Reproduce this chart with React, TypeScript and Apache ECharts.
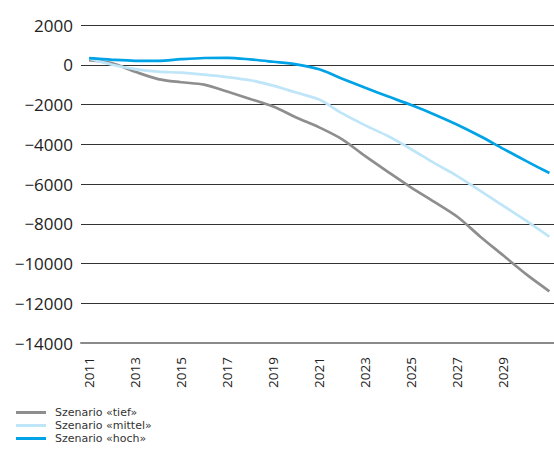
import React, { useEffect, useRef } from "react";
import * as echarts from "echarts";

const years = [2011, 2012, 2013, 2014, 2015, 2016, 2017, 2018, 2019, 2020, 2021, 2022, 2023, 2024, 2025, 2026, 2027, 2028, 2029, 2030, 2031];
const labelYears = [2011, 2013, 2015, 2017, 2019, 2021, 2023, 2025, 2027, 2029];
const tief = [230, 75, -350, -720, -880, -1000, -1350, -1720, -2100, -2650, -3150, -3750, -4600, -5400, -6180, -6900, -7650, -8650, -9600, -10550, -11400];
const mittel = [320, 0, -220, -350, -400, -500, -620, -780, -1050, -1400, -1750, -2450, -3050, -3600, -4250, -4950, -5600, -6350, -7100, -7850, -8650];
const hoch = [330, 250, 200, 200, 280, 340, 350, 270, 150, 20, -230, -700, -1160, -1600, -2030, -2500, -3020, -3600, -4230, -4850, -5450];
const seriesNames = ["Szenario «tief»", "Szenario «mittel»", "Szenario «hoch»"];
const colors = ["#8e8e8e", "#bfe5f8", "#00a3e6"];

export default function App() {
  const ref = useRef<HTMLDivElement>(null);
  useEffect(() => {
    if (!ref.current) return;
    const chart = echarts.init(ref.current, undefined, { renderer: "svg" });
    const datasets = [tief, mittel, hoch];
    chart.setOption({
      animation: false,
      grid: { left: 81, right: 0, top: 25, bottom: 116, containLabel: false },
      legend: {
        orient: "vertical",
        left: 11,
        top: 401,
        itemWidth: 30,
        itemHeight: 3,
        itemGap: 0,
        icon: "rect",
        data: seriesNames,
        textStyle: { fontFamily: "DejaVu Sans", fontSize: 11, color: "#333", lineHeight: 13, padding: [0, 0, 0, 4] },
      },
      xAxis: {
        type: "value",
        min: 2010.65,
        max: 2031.2,
        axisLine: { show: true, onZero: false, lineStyle: { color: "#8a8a8a", width: 2 } },
        axisTick: { show: false },
        splitLine: { show: false },
        axisLabel: {
          customValues: labelYears,
          rotate: 90,
          margin: 14,
          fontSize: 13.5,
          fontFamily: "Open Sans",
          color: "#222",
          formatter: (v: number) => String(v),
        },
      },
      yAxis: {
        type: "value",
        min: -14000,
        max: 2000,
        interval: 2000,
        axisLine: { show: false },
        axisTick: { show: false },
        splitLine: { lineStyle: { color: "#333", width: 1 } },
        axisLabel: {
          margin: 8,
          fontSize: 17,
          fontFamily: "Open Sans",
          color: "#222",
          formatter: (v: number) => (v < 0 ? "\u2212" + String(-v) : String(v)),
        },
      },
      series: datasets.map((d, i) => ({
        name: seriesNames[i],
        type: "line",
        data: years.map((y, j) => [y, d[j]]),
        showSymbol: false,
        smooth: 0.3,
        color: colors[i],
        lineStyle: { color: colors[i], width: 2.7 },
        z: 3 + i,
      })),
    });
    return () => chart.dispose();
  }, []);
  return <div ref={ref} style={{ position: "absolute", left: 0, top: 0, width: 554, height: 459 }} />;
}
